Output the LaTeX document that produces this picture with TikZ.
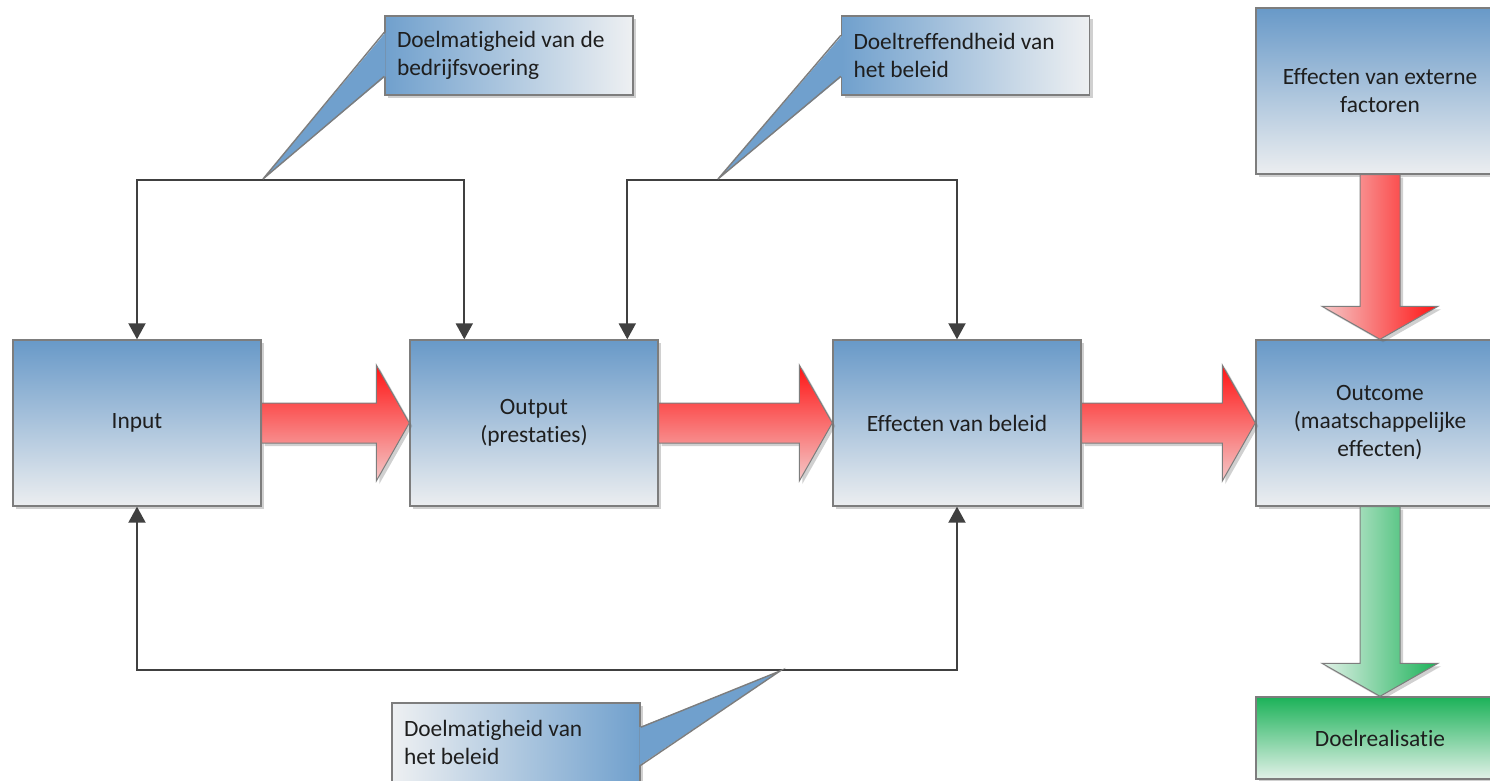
\documentclass[tikz,border=0pt]{standalone}
\usepackage{fontspec}
\setmainfont{Carlito}[Ligatures={NoCommon}]
\usetikzlibrary{arrows.meta,shadows,calc}
\definecolor{boxtop}{RGB}{104,153,200}
\definecolor{boxbot}{RGB}{236,238,240}
\definecolor{redtop}{RGB}{255,20,20}
\definecolor{redbot}{RGB}{244,200,200}
\definecolor{grntop}{RGB}{28,178,89}
\definecolor{grnbot}{RGB}{226,241,232}
\definecolor{callblue}{RGB}{112,160,205}
\definecolor{calllight}{RGB}{238,240,242}
\definecolor{edgegray}{RGB}{125,125,125}
\definecolor{conncol}{RGB}{64,64,64}
\definecolor{txt}{RGB}{30,30,30}
\newcommand\hfat[3]{\path[#1] ($(#2)+(0,-20)$) -- ($(#3)+(-33,-20)$) -- ($(#3)+(-33,-58)$) -- (#3) -- ($(#3)+(-33,58)$) -- ($(#3)+(-33,20)$) -- ($(#2)+(0,20)$) -- cycle;}
\newcommand\vfat[3]{\path[#1] ($(#2)+(-20,0)$) -- ($(#3)+(-20,-33)$) -- ($(#3)+(-58,-33)$) -- (#3) -- ($(#3)+(58,-33)$) -- ($(#3)+(20,-33)$) -- ($(#2)+(20,0)$) -- cycle;}
\begin{document}
\begin{tikzpicture}[x=0.5pt,y=-0.5pt,
  every node/.style={font=\fontsize{11.7}{14}\selectfont, text=txt},
  mydrop/.style={drop shadow={opacity=0.3, shadow xshift=1.5pt, shadow yshift=-1.5pt, fill=black!60}},
  bluebox/.style={draw=edgegray, line width=0.7pt, top color=boxtop, bottom color=boxbot, minimum width=124pt, minimum height=83pt, align=center, inner sep=0pt, mydrop},
  greenbox/.style={draw=edgegray, line width=0.7pt, top color=grntop, bottom color=grnbot, minimum width=124pt, minimum height=41pt, align=center, inner sep=0pt, mydrop},
  callbox/.style={draw=edgegray, line width=0.7pt, minimum height=39.5pt, text width=112pt, inner xsep=6pt, inner ysep=0pt, align=flush left, mydrop},
  callL/.style={left color=callblue, right color=calllight},
  callR/.style={left color=calllight, right color=callblue},
  conn/.style={draw=conncol, line width=1pt, {Triangle[length=8pt,width=8.5pt]}-{Triangle[length=8pt,width=8.5pt]}},
  fatred/.style={draw=edgegray, line width=0.5pt, top color=redtop, bottom color=redbot, mydrop},
  fatredv/.style={draw=edgegray, line width=0.5pt, left color=redbot, right color=redtop, mydrop},
  fatgrn/.style={draw=edgegray, line width=0.5pt, left color=grnbot, right color=grntop, mydrop},
  pointer/.style={draw=edgegray, line width=0.7pt}
]
\clip (0,0) rectangle (1490,781);
\fill[white] (0,0) rectangle (1490,781);

% main boxes
\node[bluebox] (inp) at (137,423) {Input};
\node[bluebox] (out) at (534,423) {Output\\(prestaties)};
\node[bluebox] (eff) at (957,423) {Effecten van beleid};
\node[bluebox] (outc) at (1380,423) {Outcome\\(maatschappelijke\\effecten)};
\node[bluebox] (ext) at (1380,91) {Effecten van externe\\factoren};
\node[greenbox] (doel) at (1380,738) {Doelrealisatie};

% fat arrows
\hfat{fatred}{inp.east}{out.west}
\hfat{fatred}{out.east}{eff.west}
\hfat{fatred}{eff.east}{outc.west}
\vfat{fatredv}{ext.south}{outc.north}
\vfat{fatgrn}{outc.south}{doel.north}

% connectors
\coordinate (ytop) at (0,180);
\coordinate (ybot) at (0,670);
\coordinate (o1) at ([xshift=27.5pt]out.north west);
\coordinate (o2) at ([xshift=109pt]out.north west);
\draw[conn] (inp.north) -- (inp.north |- ytop) -| (o1);
\draw[conn] (o2) -- (o2 |- ytop) -| (eff.north);
\draw[conn] (inp.south) -- (inp.south |- ybot) -| (eff.south);

% callouts
\coordinate (p1) at (263,179);
\coordinate (p2) at (718,179);
\coordinate (p3) at (780,671);
\node[callbox, callL] (c1) at (509,55.5) {Doelmatigheid van de\\bedrijfsvoering};
\node[callbox, callL] (c2) at (965.5,55.5) {Doeltreffendheid van\\het beleid};
\node[callbox, callR] (c3) at (516,742.5) {Doelmatigheid van\\het beleid};

\fill[callblue] ([xshift=0.7pt,yshift=-8.5pt]c1.north west) -- (p1) -- ([xshift=0.7pt,yshift=-30.5pt]c1.north west) -- cycle;
\draw[pointer] ([yshift=-8.5pt]c1.north west) -- (p1) -- ([yshift=-30.5pt]c1.north west);
\fill[callblue] ([xshift=0.7pt,yshift=-10pt]c2.north west) -- (p2) -- ([xshift=0.7pt,yshift=-30.5pt]c2.north west) -- cycle;
\draw[pointer] ([yshift=-10pt]c2.north west) -- (p2) -- ([yshift=-30.5pt]c2.north west);
\fill[callblue] ([xshift=-0.7pt,yshift=-12.5pt]c3.north east) -- (p3) -- ([xshift=-0.7pt,yshift=-31.5pt]c3.north east) -- cycle;
\draw[pointer] ([yshift=-12.5pt]c3.north east) -- (p3) -- ([yshift=-31.5pt]c3.north east);
\end{tikzpicture}
\end{document}
